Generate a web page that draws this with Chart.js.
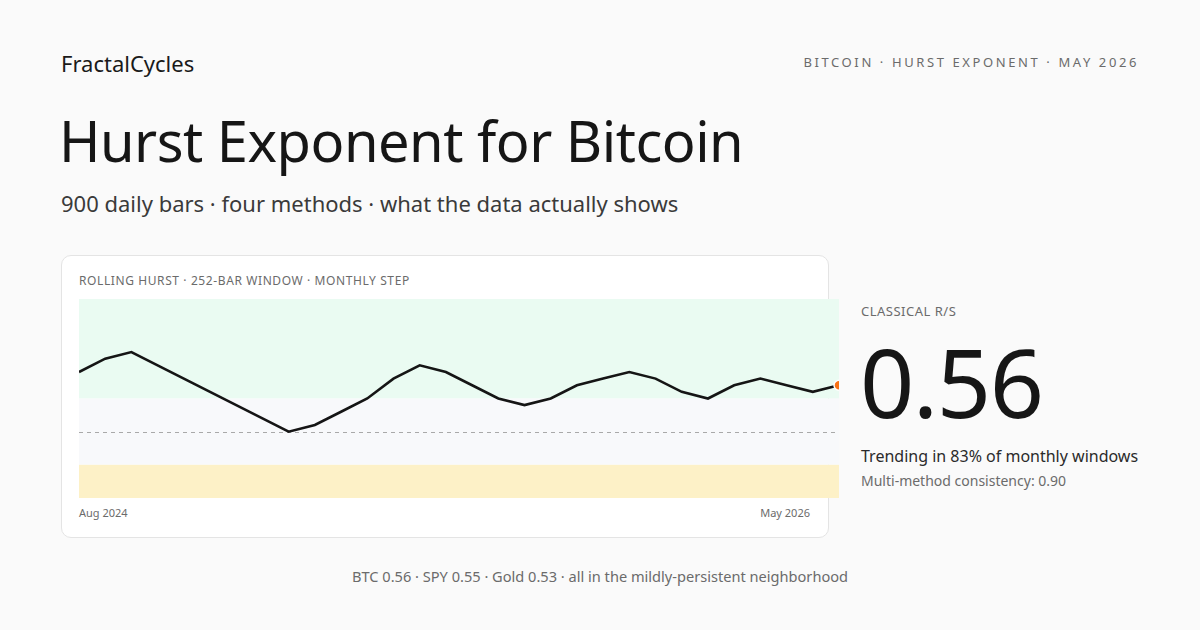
<!DOCTYPE html>
<html>
<head>
<meta charset="utf-8">
<script src="https://cdn.jsdelivr.net/npm/chart.js@4.4.1/dist/chart.umd.min.js"></script>
<style>
  html, body { margin: 0; padding: 0; }
  body {
    width: 1200px; height: 630px; background: #fafafa; position: relative; overflow: hidden;
    font-family: "Noto Sans", "Open Sans", sans-serif; color: #161616;
  }
  .abs { position: absolute; line-height: 1; white-space: nowrap; }
  #brand { left: 61px; top: 52px; font-size: 22px; color: #1a1a1a; }
  #kicker { right: 61px; top: 56px; font-size: 13px; letter-spacing: 2.6px; color: #6b6b6b; }
  #title { left: 59px; top: 112px; font-size: 56px; color: #161616; letter-spacing: -0.5px; }
  #subtitle { left: 61px; top: 192px; font-size: 22px; color: #3a3a3a; }
  #card {
    position: absolute; left: 61px; top: 255px; width: 766px; height: 281px;
    background: #fff; border: 1px solid #e4e4e4; border-radius: 10px;
  }
  #cardLabel { left: 79px; top: 275px; font-size: 12px; letter-spacing: 0.6px; color: #6b6b6b; }
  #chartBox { position: absolute; left: 79px; top: 299px; width: 760px; height: 199px; }
  #xStart { left: 79px; top: 507px; font-size: 11px; color: #6b6b6b; }
  #xEnd { right: 390px; top: 507px; font-size: 11px; color: #6b6b6b; }
  #methodLabel { left: 861px; top: 305px; font-size: 13px; letter-spacing: 0.5px; color: #6b6b6b; }
  #bigValue { left: 860px; top: 343px; font-size: 95px; line-height: 0.8; color: #161616; letter-spacing: -1.5px; }
  #trend { left: 861px; top: 448px; font-size: 16px; color: #2a2a2a; }
  #consistency { left: 861px; top: 474px; font-size: 14px; color: #6b6b6b; }
  #footer { left: 0; width: 1200px; text-align: center; top: 569px; font-size: 14.6px; color: #6b6b6b; }
</style>
</head>
<body>
<div id="brand" class="abs">FractalCycles</div>
<div id="kicker" class="abs">BITCOIN · HURST EXPONENT · MAY 2026</div>
<div id="title" class="abs">Hurst Exponent for Bitcoin</div>
<div id="subtitle" class="abs">900 daily bars · four methods · what the data actually shows</div>

<div id="card"></div>
<div id="cardLabel" class="abs">ROLLING HURST · 252-BAR WINDOW · MONTHLY STEP</div>
<div id="chartBox"><canvas id="hurstChart"></canvas></div>
<div id="xStart" class="abs"></div>
<div id="xEnd" class="abs"></div>

<div id="methodLabel" class="abs">CLASSICAL R/S</div>
<div id="bigValue" class="abs">0.56</div>
<div id="trend" class="abs">Trending in 83% of monthly windows</div>
<div id="consistency" class="abs">Multi-method consistency: 0.90</div>

<div id="footer" class="abs">BTC 0.56 · SPY 0.55 · Gold 0.53 · all in the mildly-persistent neighborhood</div>

<script>
// rolling hurst, one value per monthly window
const hurstValues = [0.59, 0.61, 0.62, 0.60, 0.58, 0.56, 0.54, 0.52, 0.50, 0.51,
                     0.53, 0.55, 0.58, 0.60, 0.59, 0.57, 0.55, 0.54, 0.55, 0.57,
                     0.58, 0.59, 0.58, 0.56, 0.55, 0.57, 0.58, 0.57, 0.56, 0.57];
const windowIndex = hurstValues.map(function (v, i) { return i; });
const xTickLabels = ['Aug 2024', 'May 2026'];
const yRange = [0.40, 0.70];
// regime bands: [from, to]
const trendingBand = [0.55, 0.70];
const randomBand = [0.45, 0.55];
const revertingBand = [0.40, 0.45];
const randomWalkLine = 0.5;

document.getElementById('xStart').textContent = xTickLabels[0];
document.getElementById('xEnd').textContent = xTickLabels[1];

const bandsPlugin = {
    id: 'bands',
    beforeDatasetsDraw: function (chart) {
        var c = chart.ctx, area = chart.chartArea, y = chart.scales.y;
        function band(range, color) {
            var top = y.getPixelForValue(range[1]);
            var bottom = y.getPixelForValue(range[0]);
            c.fillStyle = color;
            c.fillRect(area.left, top, area.right - area.left, bottom - top);
        }
        c.save();
        band(trendingBand, '#eafbf2');
        band(randomBand, '#f8f9fb');
        band(revertingBand, '#fdf1c7');
        var yl = Math.round(y.getPixelForValue(randomWalkLine)) + 0.5;
        c.strokeStyle = '#a9a9a9';
        c.lineWidth = 1;
        c.setLineDash([4, 4]);
        c.beginPath();
        c.moveTo(area.left, yl);
        c.lineTo(area.right, yl);
        c.stroke();
        c.restore();
    }
};

const lastIdx = hurstValues.length - 1;
new Chart(document.getElementById('hurstChart'), {
    type: 'line',
    data: {
        labels: windowIndex,
        datasets: [{
            data: hurstValues,
            borderColor: '#151515',
            borderWidth: 2.6,
            tension: 0,
            clip: false,
            pointRadius: hurstValues.map(function (v, i) { return i === lastIdx ? 5 : 0; }),
            pointBackgroundColor: '#f97316',
            pointBorderColor: '#ffffff',
            pointBorderWidth: 1.5
        }]
    },
    options: {
        responsive: true,
        maintainAspectRatio: false,
        animation: false,
        layout: { padding: 0, autoPadding: false },
        plugins: { legend: { display: false }, tooltip: { enabled: false } },
        scales: {
            x: { type: 'category', offset: false, display: false },
            y: { min: yRange[0], max: yRange[1], display: false }
        }
    },
    plugins: [bandsPlugin]
});
</script>
</body>
</html>
